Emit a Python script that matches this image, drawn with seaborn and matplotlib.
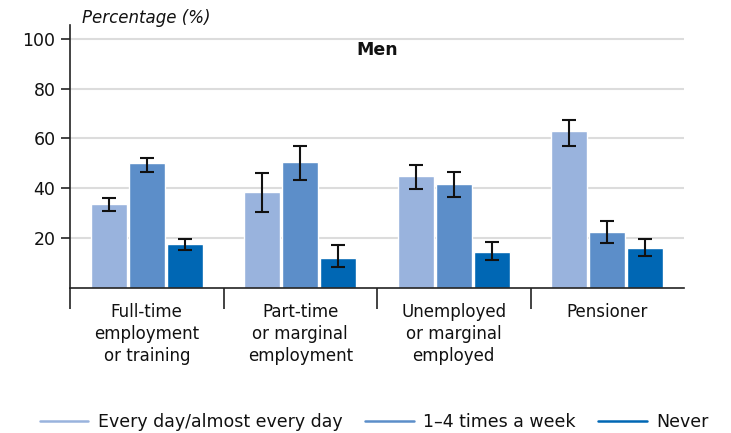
import numpy as np
import pandas as pd
import matplotlib
matplotlib.use("Agg")
import matplotlib.pyplot as plt
from matplotlib.lines import Line2D
import seaborn as sns

# data
categories = ["Full-time\nemployment\nor training",
              "Part-time\nor marginal\nemployment",
              "Unemployed\nor marginal\nemployed",
              "Pensioner"]
frequencies = ["Every day/almost every day", "1–4 times a week", "Never"]
daily = [33.6, 38.3, 44.8, 62.9]
weekly = [50.0, 50.3, 41.6, 22.3]
never = [17.4, 11.7, 14.3, 15.9]
daily_lo = [30.8, 30.5, 39.6, 56.9]
daily_hi = [36.0, 46.2, 49.2, 67.2]
weekly_lo = [46.6, 43.1, 36.3, 17.9]
weekly_hi = [52.1, 56.9, 46.6, 26.6]
never_lo = [15.1, 8.4, 10.9, 12.8]
never_hi = [19.5, 17.0, 18.3, 19.6]
colors = ["#99b3dd", "#5c8ec9", "#0067b4"]

values = [daily, weekly, never]
lows = [daily_lo, weekly_lo, never_lo]
highs = [daily_hi, weekly_hi, never_hi]

df = pd.DataFrame({
    "category": np.tile(categories, 3),
    "frequency": np.repeat(frequencies, 4),
    "value": np.concatenate(values),
})

sns.set_style("white")
plt.rcParams["font.family"] = ["DejaVu Sans"]

fig = plt.figure(figsize=(7.31, 4.33), dpi=100)
ax = fig.add_axes([0.0958, 0.336, 0.8399, 0.606])

sns.barplot(data=df, x="category", y="value", hue="frequency",
            order=categories, hue_order=frequencies, palette=colors,
            saturation=1, width=0.74, gap=0.05, errorbar=None,
            legend=False, ax=ax, zorder=2)

# error bars on top of each bar
for cont, lo, hi in zip(ax.containers, lows, highs):
    for bar, l, h in zip(cont, lo, hi):
        xc = bar.get_x() + bar.get_width() / 2
        ax.errorbar(xc, (l + h) / 2, yerr=(h - l) / 2, fmt="none",
                    ecolor="#111111", elinewidth=1.5, capsize=5,
                    capthick=1.5, zorder=3)

ax.set_xlim(-0.5, 3.5)
ax.set_ylim(0, 105.5)
ax.set_yticks([20, 40, 60, 80, 100])
ax.yaxis.grid(True, color="#dcdcdc", linewidth=1.5, zorder=0)
ax.set_axisbelow(True)
ax.tick_params(axis="y", left=True, labelsize=12.5, length=6.5, width=1.2,
               color="#222222", labelcolor="#111111", pad=4)

ax.set_xticks([-0.5, 0.5, 1.5, 2.5])
ax.set_xticklabels([])
ax.set_xticks([0, 1, 2, 3], minor=True)
ax.set_xticklabels(categories, minor=True)
ax.tick_params(axis="x", which="major", bottom=True, length=15, width=1.2,
               color="#222222")
ax.tick_params(axis="x", which="minor", bottom=True, length=0, labelsize=12,
               pad=11, labelcolor="#111111")
for t in ax.get_xticklabels(minor=True):
    t.set_linespacing(1.3)
ax.set_xlabel("")
ax.set_ylabel("")

sns.despine(ax=ax)
for s in ["left", "bottom"]:
    ax.spines[s].set_color("#222222")
    ax.spines[s].set_linewidth(1.2)

ax.text(0.5, 0.905, "Men", transform=ax.transAxes, ha="center",
        va="center", fontsize=12.5, fontweight="bold", color="#111111")
fig.text(0.112, 0.958, "Percentage (%)", ha="left", va="center",
         fontsize=12, style="italic", color="#111111")

handles = [Line2D([0], [0], color=c, lw=1.8) for c in colors]
fig.legend(handles, frequencies, loc="center", bbox_to_anchor=(0.512, 0.025),
           ncol=3, frameon=False, fontsize=12.5, handlelength=2.8,
           handletextpad=0.55, columnspacing=1.3, labelcolor="#111111")

fig.savefig("out.png", dpi=100)
